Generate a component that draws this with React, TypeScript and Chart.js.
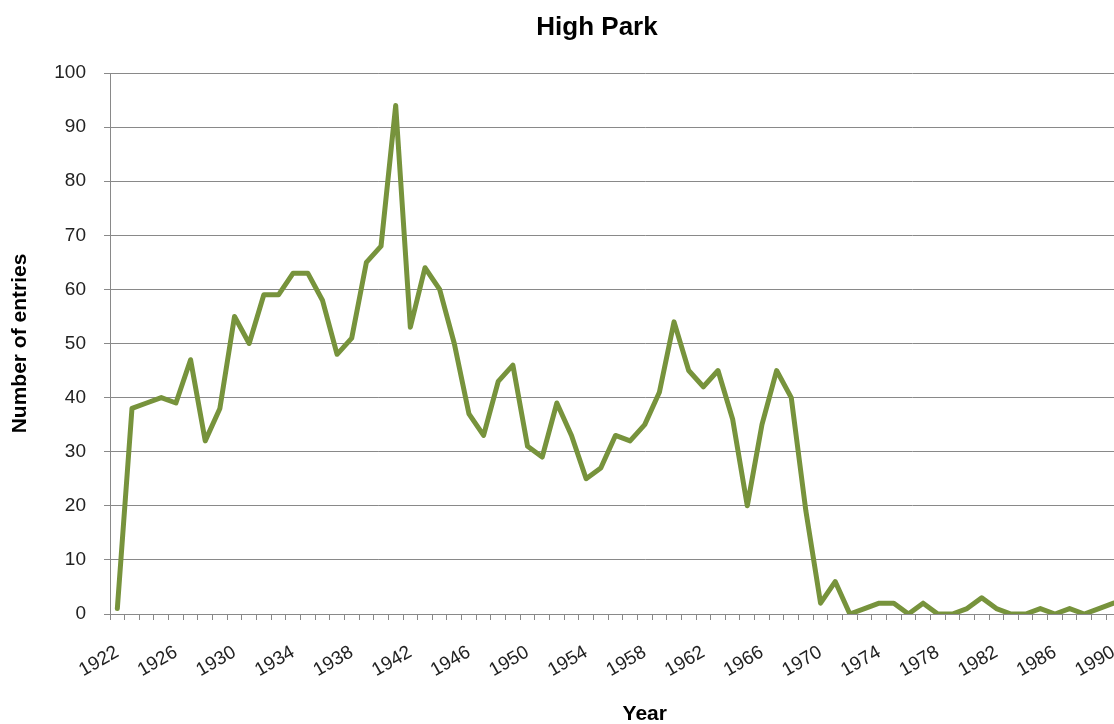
import React, { useEffect, useRef } from 'react';
import { Chart, registerables } from 'chart.js';

Chart.register(...registerables);

const chartTitle = 'High Park';
const yAxisTitle = 'Number of entries';
const xAxisTitle = 'Year';

// The reference is a crop of a wider chart: its category axis runs on past the
// right edge of the picture (to 1994), which is why the title and the "Year"
// title sit right of the visible centre.
const years = [
  '1922', '1923', '1924', '1925', '1926', '1927', '1928', '1929', '1930', '1931',
  '1932', '1933', '1934', '1935', '1936', '1937', '1938', '1939', '1940', '1941',
  '1942', '1943', '1944', '1945', '1946', '1947', '1948', '1949', '1950', '1951',
  '1952', '1953', '1954', '1955', '1956', '1957', '1958', '1959', '1960', '1961',
  '1962', '1963', '1964', '1965', '1966', '1967', '1968', '1969', '1970', '1971',
  '1972', '1973', '1974', '1975', '1976', '1977', '1978', '1979', '1980', '1981',
  '1982', '1983', '1984', '1985', '1986', '1987', '1988', '1989', '1990', '1991',
  '1992', '1993', '1994',
];

const entries = [
  1, 38, 39, 40, 39, 47, 32, 38, 55, 50,
  59, 59, 63, 63, 58, 48, 51, 65, 68, 94,
  53, 64, 60, 50, 37, 33, 43, 46, 31, 29,
  39, 33, 25, 27, 33, 32, 35, 41, 54, 45,
  42, 45, 36, 20, 35, 45, 40, 19, 2, 6,
  0, 1, 2, 2, 0, 2, 0, 0, 1, 3,
  1, 0, 0, 1, 0, 1, 0, 1, 2,
];

const FONT = '"Liberation Sans", Arial, sans-serif';
const GRID = '#898989';
const LINE = '#77933C';

// Centre the chart title over the whole chart object (as the source does),
// not over the padded layout box.
const titleOverWholeChart = {
  id: 'titleOverWholeChart',
  afterLayout(chart: any) {
    const t = chart.titleBlock;
    if (t) {
      t.left = 0;
      t.right = chart.width;
      t.width = chart.width;
    }
  },
};

export default function App() {
  const ref = useRef<HTMLCanvasElement | null>(null);

  useEffect(() => {
    if (!ref.current) return;
    const chart = new Chart(ref.current, {
      type: 'line',
      data: {
        labels: years,
        datasets: [
          {
            label: chartTitle,
            data: entries,
            borderColor: LINE,
            backgroundColor: LINE,
            borderWidth: 5,
            pointRadius: 0,
            tension: 0,
            borderJoinStyle: 'round',
            borderCapStyle: 'round',
          },
        ],
      },
      options: {
        responsive: false,
        animation: false,
        devicePixelRatio: 1,
        layout: { padding: { left: 0, right: 14.5, top: 0, bottom: 0 } },
        plugins: {
          legend: { display: false },
          tooltip: { enabled: false },
          title: {
            display: true,
            text: chartTitle,
            color: '#000',
            font: { family: FONT, size: 26, weight: 'bold', lineHeight: 1.2 },
            padding: { top: 12, bottom: 29.8 },
          },
        },
        scales: {
          x: {
            type: 'category',
            offset: true,
            grid: {
              offset: true,
              drawOnChartArea: false,
              drawTicks: true,
              tickLength: 6,
              color: GRID,
            },
            border: { display: true, color: GRID, width: 1 },
            ticks: {
              autoSkip: false,
              minRotation: 30,
              maxRotation: 30,
              padding: 21,
              color: '#222',
              font: { family: FONT, size: 19 },
              callback: (_v: any, index: number) => (index % 4 === 0 ? years[index] : ''),
            },
            title: {
              display: true,
              text: xAxisTitle,
              color: '#000',
              font: { family: FONT, size: 21, weight: 'bold', lineHeight: 0.9 },
              padding: { top: 0, bottom: 0 },
            },
            afterFit: (scale: any) => {
              scale.height = 110;
              scale.paddingLeft = 0;
              scale.paddingRight = 0;
            },
          },
          y: {
            min: 0,
            max: 100,
            grid: {
              color: GRID,
              tickLength: 6,
              drawTicks: true,
            },
            border: { display: true, color: GRID, width: 1 },
            ticks: {
              stepSize: 10,
              padding: 18,
              color: '#222',
              font: { family: FONT, size: 19 },
            },
            title: {
              display: true,
              text: yAxisTitle,
              color: '#000',
              font: { family: FONT, size: 21, weight: 'bold', lineHeight: 1 },
              padding: { top: 10, bottom: 0 },
            },
            afterFit: (scale: any) => {
              scale.width = 110;
            },
          },
        },
      },
      plugins: [titleOverWholeChart],
    });
    return () => chart.destroy();
  }, []);

  return (
    <div
      style={{
        position: 'fixed',
        left: 0,
        top: 0,
        width: 1114,
        height: 724,
        overflow: 'hidden',
        background: '#fff',
      }}
    >
      <canvas ref={ref} width={1194} height={724} style={{ display: 'block' }} />
    </div>
  );
}
